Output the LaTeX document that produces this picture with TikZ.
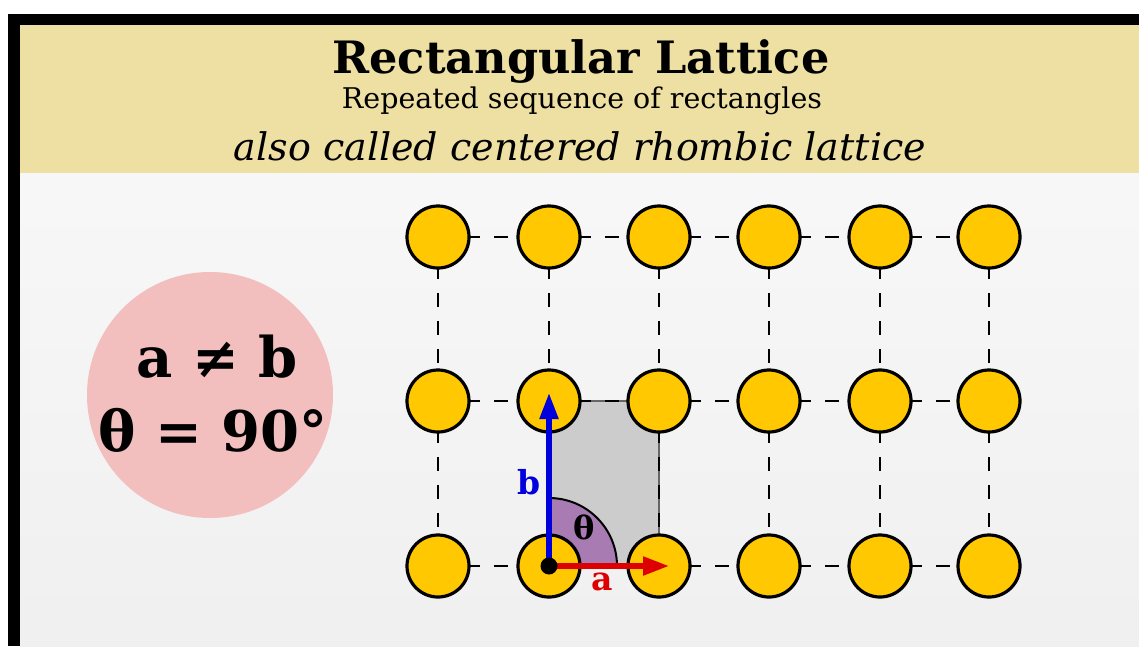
\documentclass[tikz,border=0pt]{standalone}
\usepackage{fontspec}
\setmainfont{DejaVu Serif}
\usetikzlibrary{arrows.meta,calc,positioning}

\definecolor{headyellow}{HTML}{EEE0A2}
\definecolor{atomgold}{HTML}{FFC800}
\definecolor{pinkdisc}{HTML}{F2BEBE}
\definecolor{cellgray}{HTML}{CCCCCC}
\definecolor{anglepurple}{HTML}{A87BB3}
\definecolor{vecblue}{HTML}{0000DD}
\definecolor{vecred}{HTML}{DD0000}

\tikzset{
  atom/.style={circle,draw=black,line width=3.2pt,fill=atomgold,minimum size=62pt,inner sep=0pt},
  gridline/.style={line width=1.7pt,dash pattern=on 14pt off 14pt},
  vec/.style={line width=5.2pt,-{Triangle[length=26pt,width=18pt]}}
}

\begin{document}
\begin{tikzpicture}[x=1pt,y=-1pt]
  \useasboundingbox (0,0) rectangle (1139,646);
  % Frame and backgrounds
  \fill[white] (0,0) rectangle (1139,646);
  \fill[black] (8,14) rectangle (1139,646);
  \shade[top color=gray!6,bottom color=gray!12] (20,173) rectangle (1139,646);
  \fill[headyellow] (20,25) rectangle (1139,173);
  % Header texts
  \node (title) at (581,62) {\fontsize{44.6}{50}\selectfont\bfseries Rectangular Lattice};
  \node (sub) at (582,101) {\fontsize{28.5}{32}\selectfont Repeated sequence of rectangles};
  \node (alias) at (580,146) {\fontsize{38}{42}\selectfont\itshape also called centered rhombic lattice};
  % Condition disc
  \fill[pinkdisc] (210,395) circle (123);
  \node (cond1) at (217,357) {\fontsize{56}{60}\selectfont\bfseries a ≠ b};
  \node (cond2) at (213,430) {\fontsize{56}{60}\selectfont\bfseries θ = 90°};
  % Lattice points
  \foreach \i/\x in {1/438,2/549,3/659,4/769,5/880,6/989}
    \foreach \j/\y in {1/237,2/401,3/566}
      \coordinate (p-\i-\j) at (\x,\y);
  % Unit cell and angle
  \draw[fill=cellgray,draw=gray!80!black,line width=1.2pt] (p-2-2) rectangle (p-3-3);
  \draw[fill=anglepurple,line width=2pt] (p-2-3) -- ++(68,0) arc (0:-90:68) -- cycle;
  % Dashed grid
  \foreach \i [evaluate=\i as \n using int(\i+1)] in {1,...,5}
    \foreach \j in {1,2,3}
      \draw[gridline] (p-\i-\j) -- (p-\n-\j);
  \foreach \i in {1,...,6} {
    \draw[gridline] (p-\i-1) -- (p-\i-2);
    \draw[gridline] (p-\i-2) -- (p-\i-3);
  }
  % Atoms
  \foreach \i in {1,...,6}
    \foreach \j in {1,2,3}
      \node[atom] (c-\i-\j) at (p-\i-\j) {};
  % Lattice vectors
  \coordinate (btip) at (549,393);
  \coordinate (atip) at (669,566);
  \draw[vec,vecblue] (c-2-3.center) -- (btip);
  \draw[vec,vecred] (c-2-3.center) -- (atip);
  \fill[black] (c-2-3.center) circle (8.5);
  \node[text=vecblue] (blabel) at (529,482) {\fontsize{33}{36}\selectfont\bfseries b};
  \node[text=vecred] (alabel) at (602,582) {\fontsize{33}{36}\selectfont\bfseries a};
  \node (theta) at (584,527) {\fontsize{32}{36}\selectfont\bfseries θ};
\end{tikzpicture}
\end{document}
